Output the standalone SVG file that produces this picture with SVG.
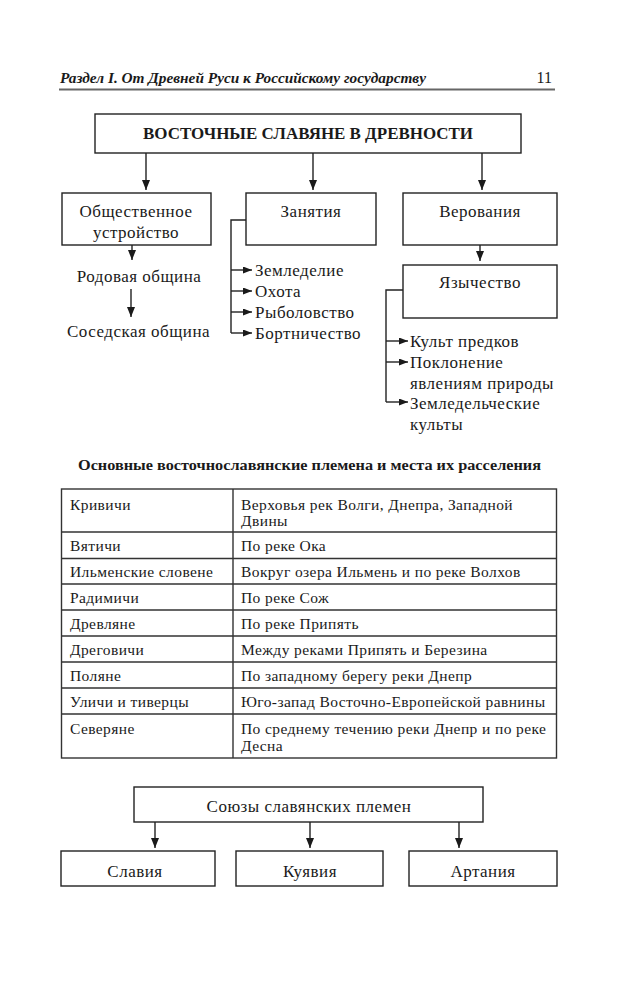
<svg xmlns="http://www.w3.org/2000/svg" width="644" height="1000" viewBox="0 0 644 1000">
<defs>
<marker id="ah" viewBox="0 0 10 8" refX="10" refY="4" markerWidth="10" markerHeight="8" markerUnits="userSpaceOnUse" orient="auto">
<path d="M0,0 L10,4 L0,8 z" fill="#1a1a1a"/>
</marker>
<marker id="ahs" viewBox="0 0 9 7" refX="9" refY="3.5" markerWidth="9" markerHeight="7" markerUnits="userSpaceOnUse" orient="auto">
<path d="M0,0 L9,3.5 L0,7 z" fill="#1a1a1a"/>
</marker>
</defs>
<style>
text{font-family:"Liberation Serif","Times New Roman",serif;fill:#1a1a1a}
.t{font-size:17px;letter-spacing:0.5px}
.c{text-anchor:middle}
.s{font-size:15.5px;letter-spacing:0.4px}
.b{font-weight:bold}
.box{fill:#fff;stroke:#222;stroke-width:1.4}
.ln{fill:none;stroke:#222;stroke-width:1.4}
.ar{fill:none;stroke:#222;stroke-width:1.4;marker-end:url(#ah)}
.as{fill:none;stroke:#222;stroke-width:1.4;marker-end:url(#ahs)}
.tb{fill:none;stroke:#333;stroke-width:1.4}
</style>
<rect width="644" height="1000" fill="#fff"/>

<g id="header">
<text x="60" y="83" font-size="15" font-weight="bold" font-style="italic" textLength="366" lengthAdjust="spacingAndGlyphs">Раздел I. От Древней Руси к Российскому государству</text>
<text x="552" y="83" font-size="16" text-anchor="end">11</text>
<line x1="59" y1="89.5" x2="555" y2="89.5" stroke="#666" stroke-width="2"/>
</g>

<g id="connectors">
<path class="ar" d="M146,153 V190"/>
<path class="ar" d="M313,153 V190"/>
<path class="ar" d="M482,153 V190"/>
<path class="ar" d="M132,245 V260"/>
<path class="ar" d="M131,289 V317"/>
<path class="ar" d="M480,245 V261"/>
<path class="ln" d="M246,220 H231 V333"/>
<path class="as" d="M231,270 H252"/>
<path class="as" d="M231,291 H252"/>
<path class="as" d="M231,312 H252"/>
<path class="as" d="M231,333 H252"/>
<path class="ln" d="M403,290 H386 V402"/>
<path class="as" d="M386,341 H408"/>
<path class="as" d="M386,362 H408"/>
<path class="as" d="M386,402 H408"/>
<path class="ar" d="M155,822 V848"/>
<path class="ar" d="M310,822 V848"/>
<path class="ar" d="M459,822 V848"/>
</g>

<g id="root">
<rect class="box" x="95" y="114" width="426" height="39"/>
<text class="b c" x="308" y="139" font-size="16" textLength="330" lengthAdjust="spacingAndGlyphs">ВОСТОЧНЫЕ СЛАВЯНЕ В ДРЕВНОСТИ</text>
</g>

<g id="obsh">
<rect class="box" x="62" y="193" width="149" height="52"/>
<text class="t c" x="136" y="217">Общественное</text>
<text class="t c" x="136" y="238">устройство</text>
</g>
<g id="rodovaya"><text class="t c" x="139" y="282">Родовая община</text></g>
<g id="sosedskaya"><text class="t c" x="138.5" y="337">Соседская община</text></g>

<g id="zanyatiya">
<rect class="box" x="246" y="193" width="130" height="52"/>
<text class="t c" x="311" y="217">Занятия</text>
</g>
<g id="zan-list">
<text class="t" x="255" y="276">Земледелие</text>
<text class="t" x="255" y="297">Охота</text>
<text class="t" x="255" y="318">Рыболовство</text>
<text class="t" x="255" y="339">Бортничество</text>
</g>

<g id="verovaniya">
<rect class="box" x="403" y="193" width="154" height="52"/>
<text class="t c" x="480" y="217">Верования</text>
</g>
<g id="yazychestvo">
<rect class="box" x="403" y="265" width="154" height="53"/>
<text class="t c" x="480" y="288">Язычество</text>
</g>
<g id="yaz-list">
<text class="t" x="410" y="347">Культ предков</text>
<text class="t" x="410" y="368">Поклонение</text>
<text class="t" x="410" y="389">явлениям природы</text>
<text class="t" x="410" y="409">Земледельческие</text>
<text class="t" x="410" y="430">культы</text>
</g>

<g id="table-title">
<text class="b c" x="309.5" y="470" font-size="15" textLength="463" lengthAdjust="spacingAndGlyphs">Основные восточнославянские племена и места их расселения</text>
</g>

<g id="table">
<rect class="tb" x="61.5" y="489" width="495" height="269"/>
<path class="tb" d="M233,489 V758 M61.5,532 H556.5 M61.5,558.5 H556.5 M61.5,584 H556.5 M61.5,610 H556.5 M61.5,636 H556.5 M61.5,662 H556.5 M61.5,688 H556.5 M61.5,714 H556.5"/>
<g class="s">
<text x="70" y="510">Кривичи</text>
<text x="241" y="510">Верховья рек Волги, Днепра, Западной</text>
<text x="241" y="526">Двины</text>
<text x="70" y="551">Вятичи</text>
<text x="241" y="551">По реке Ока</text>
<text x="70" y="577">Ильменские словене</text>
<text x="241" y="577">Вокруг озера Ильмень и по реке Волхов</text>
<text x="70" y="603">Радимичи</text>
<text x="241" y="603">По реке Сож</text>
<text x="70" y="629">Древляне</text>
<text x="241" y="629">По реке Припять</text>
<text x="70" y="655">Дреговичи</text>
<text x="241" y="655">Между реками Припять и Березина</text>
<text x="70" y="681">Поляне</text>
<text x="241" y="681">По западному берегу реки Днепр</text>
<text x="70" y="707">Уличи и тиверцы</text>
<text x="241" y="707">Юго-запад Восточно-Европейской равнины</text>
<text x="70" y="734">Северяне</text>
<text x="241" y="734">По среднему течению реки Днепр и по реке</text>
<text x="241" y="751">Десна</text>
</g>
</g>

<g id="soyuzy">
<rect class="box" x="134" y="787" width="349" height="35"/>
<text class="t c" x="309" y="812">Союзы славянских племен</text>
</g>
<g id="slaviya">
<rect class="box" x="61" y="851" width="154" height="35"/>
<text class="t c" x="135" y="877">Славия</text>
</g>
<g id="kuyaviya">
<rect class="box" x="236" y="851" width="147" height="35"/>
<text class="t c" x="310" y="877">Куявия</text>
</g>
<g id="artaniya">
<rect class="box" x="409" y="851" width="148" height="35"/>
<text class="t c" x="483" y="877">Артания</text>
</g>
</svg>
